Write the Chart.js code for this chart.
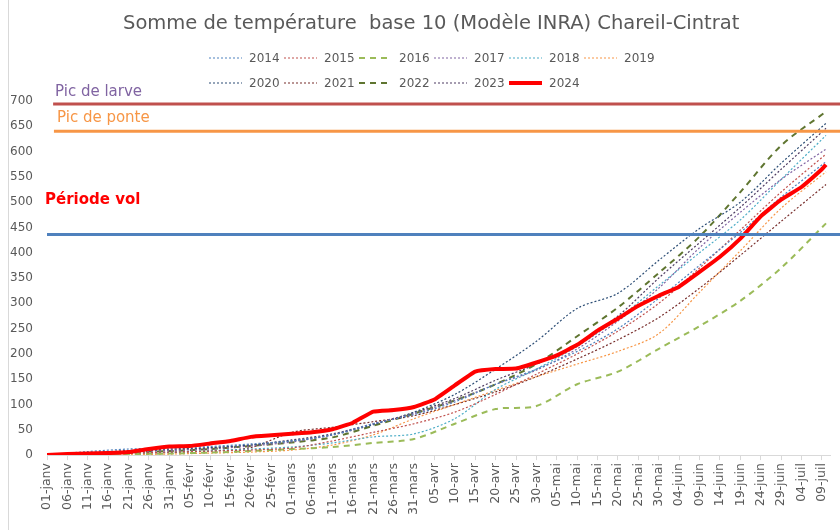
<!DOCTYPE html>
<html>
<head>
<meta charset="utf-8">
<script src="https://cdn.jsdelivr.net/npm/chart.js@4.4.1/dist/chart.umd.min.js"></script>
<style>
  body { margin: 0; background: #fff; font-family: "DejaVu Sans", Verdana, sans-serif; }
  #wrap { position: relative; width: 840px; height: 530px; overflow: hidden; }
  #frame { position: absolute; left: 8px; top: 0; width: 900px; height: 540px; border-left: 1px solid #d9d9d9; }
  canvas { position: absolute; left: 0; top: 0; }
  #title { position: absolute; left: 123px; top: 11px; font-size: 19.5px; color: #595959; white-space: pre; }
  #legend { position: absolute; left: 209px; top: 45px; display: grid; grid-template-columns: repeat(6, 75px); }
  .item { height: 25px; display: flex; align-items: center; font-size: 12px; color: #595959; }
  .item svg { width: 33px; height: 10px; margin-right: 7px; }
  .note { position: absolute; font-size: 15px; white-space: pre; }
</style>
</head>
<body>
<div id="wrap">
  <div id="frame"></div>
  <canvas id="chart" width="840" height="530"></canvas>
  <div id="title">Somme de température  base 10 (Modèle INRA) Chareil-Cintrat</div>
  <div id="legend"></div>
  <div class="note" style="left:55px; top:82px; color:#8064A2;">Pic de larve</div>
  <div class="note" style="left:57px; top:108px; color:#F79646;">Pic de ponte</div>
  <div class="note" style="left:45px; top:190px; color:#FF0000; font-weight:bold;">Période vol</div>
</div>
<script>
// day index 0 = 01-janv (2024)
let xTickDays = [0,5,10,15,20,25,30,35,40,45,50,55,60,65,70,75,80,85,90,95,100,105,110,115,120,125,130,135,140,145,150,155,160,165,170,175,180,185,190];
let xLabels = ["01-janv","06-janv","11-janv","16-janv","21-janv","26-janv","31-janv","05-févr","10-févr","15-févr","20-févr","25-févr",
  "01-mars","06-mars","11-mars","16-mars","21-mars","26-mars","31-mars","05-avr","10-avr","15-avr","20-avr","25-avr","30-avr",
  "05-mai","10-mai","15-mai","20-mai","25-mai","30-mai","04-juin","09-juin","14-juin","19-juin","24-juin","29-juin","04-juil","09-juil"];

// older years, read every 10 days
let pastDays = [0,10,20,30,40,50,60,70,80,90,100,110,120,130,140,150,160,170,180,191];
let y2014 = [0,7,12,14,17,22,28,40,62,80,105,140,170,205,250,310,375,440,510,580];
let y2015 = [0,2,4,6,8,10,14,28,45,62,85,120,160,200,245,300,370,445,520,595];
let y2016 = [0,1,2,3,5,8,12,16,24,32,62,91,97,140,165,210,255,305,370,458];
let y2017 = [0,3,6,9,12,18,26,40,62,82,108,140,168,210,265,330,410,480,545,605];
let y2018 = [0,2,4,6,9,12,16,24,36,42,72,130,170,215,270,335,400,465,545,632];
let y2019 = [0,0,1,2,4,6,10,20,40,72,100,128,155,180,205,240,322,404,488,560];
let y2020 = [0,4,9,12,15,20,28,40,60,85,120,170,225,290,320,385,448,500,577,656];
let y2021 = [0,1,3,5,8,15,45,55,66,78,100,125,155,190,228,272,330,395,462,535];
let y2022 = [0,3,6,8,12,18,25,35,58,82,108,140,180,235,292,360,432,520,612,679];
let y2023 = [0,5,8,10,14,20,30,42,62,84,112,148,180,220,275,350,420,490,565,646];

// 2024, read every 5 days
let days2024 = [0,5,10,15,20,25,30,35,40,45,50,55,60,65,70,75,80,85,90,95,100,105,110,115,120,125,130,135,140,145,150,155,160,165,170,175,180,185,190,191];
let y2024 = [0,2,3,4,6,12,17,18,23,28,36,39,42,45,51,64,86,89,95,110,138,165,170,171,183,197,218,246,270,295,315,333,362,392,428,472,505,530,565,574];

// reference levels
let picLarve = 694;
let picPonte = 640;
let periodeVol = 436;

let years = ["2014","2015","2016","2017","2018","2019","2020","2021","2022","2023"];
let pastValues = [y2014,y2015,y2016,y2017,y2018,y2019,y2020,y2021,y2022,y2023];
let colors = ["#4F81BD","#C0504D","#9BBB59","#8064A2","#4BACC6","#F79646","#2C4D75","#772C2A","#5F7530","#4D3B62"];
let dashed = [false,false,true,false,false,false,false,false,true,false];

function toPoints(xs, ys) {
    return ys.map((v, i) => ({ x: xs[i], y: v }));
}

let datasets = [];

// reference lines on top
datasets.push({ label: "larve", data: [{x: 1.5, y: picLarve}, {x: 195, y: picLarve}], borderColor: "#C0504D", borderWidth: 3, pointRadius: 0, clip: false, order: 0 });
datasets.push({ label: "ponte", data: [{x: 1.7, y: picPonte}, {x: 195, y: picPonte}], borderColor: "#F79646", borderWidth: 3, pointRadius: 0, clip: false, order: 0 });
datasets.push({ label: "vol", data: [{x: 0, y: periodeVol}, {x: 195, y: periodeVol}], borderColor: "#4F81BD", borderWidth: 3, pointRadius: 0, clip: false, order: 0 });

datasets.push({ label: "2024", data: toPoints(days2024, y2024), borderColor: "#FF0000", borderWidth: 4, pointRadius: 0, tension: 0.1, order: 1 });

years.forEach((yr, i) => {
    datasets.push({
        label: yr,
        data: toPoints(pastDays, pastValues[i]),
        borderColor: colors[i],
        borderWidth: dashed[i] ? 2 : 1.2,
        borderDash: dashed[i] ? [6, 5] : [2, 2],
        pointRadius: 0,
        tension: 0.3,
        order: 2
    });
});

// legend (html)
let legendDiv = document.getElementById("legend");
let legendNames = years.concat(["2024"]);
let legendColors = colors.concat(["#FF0000"]);
legendNames.forEach((name, i) => {
    let isRed = name === "2024";
    let dash = isRed ? "" : (dashed[i] ? "6 5" : "2 2");
    let w = isRed ? 4 : (dashed[i] ? 2 : 1.2);
    let item = document.createElement("div");
    item.className = "item";
    item.innerHTML = `<svg viewBox="0 0 33 10"><line x1="0" y1="5" x2="33" y2="5" stroke="${legendColors[i]}" stroke-width="${w}" stroke-dasharray="${dash}"/></svg><span>${name}</span>`;
    legendDiv.appendChild(item);
});

new Chart(document.getElementById("chart").getContext("2d"), {
    type: "line",
    data: { datasets: datasets },
    options: {
        responsive: false,
        animation: false,
        layout: { padding: { top: 101, right: 8, left: 10, bottom: 12 } },
        plugins: { legend: { display: false }, title: { display: false }, tooltip: { enabled: false } },
        scales: {
            x: {
                type: "linear",
                min: 0,
                max: 192,
                afterBuildTicks: axis => { axis.ticks = xTickDays.map(v => ({ value: v })); },
                ticks: {
                    autoSkip: false,
                    maxRotation: 90,
                    minRotation: 90,
                    color: "#595959",
                    font: { family: "DejaVu Sans", size: 12.5 },
                    callback: v => xLabels[xTickDays.indexOf(v)]
                },
                grid: { drawOnChartArea: false, color: "#d9d9d9", tickLength: 5 },
                border: { color: "#d9d9d9" }
            },
            y: {
                min: 0,
                max: 700,
                afterFit: s => { s.width = 37; },
                ticks: { stepSize: 50, color: "#595959", font: { family: "DejaVu Sans", size: 12 }, padding: 14 },
                grid: { display: false, drawTicks: false },
                border: { display: false }
            }
        }
    }
});
</script>
</body>
</html>
